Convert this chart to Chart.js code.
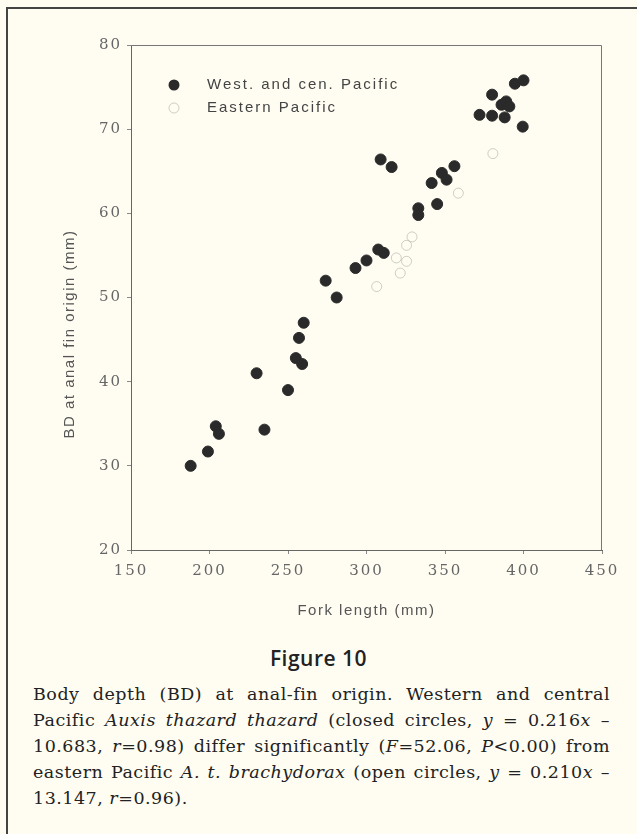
<!DOCTYPE html>
<html>
<head>
<meta charset="utf-8">
<script src="https://cdn.jsdelivr.net/npm/chart.js@4.4.0/dist/chart.umd.min.js"></script>
<style>
  body { margin: 0; background: #fffdf2; }
  #page { position: relative; width: 637px; height: 834px; overflow: hidden; background: #fffdf2; }
  #frame { position: absolute; left: 6px; top: 7px; width: 700px; height: 900px;
           border-left: 2px solid #444; border-top: 2px solid #444; }
  #c { position: absolute; left: 0; top: 0; }
  #fig { position: absolute; left: 0; top: 644px; width: 637px; text-align: center;
         font: 600 21px "Open Sans"; color: #222; letter-spacing: 0.5px; }
  #cap { position: absolute; left: 33px; top: 681px; width: 577px;
         font: 17.5px "DejaVu Serif"; line-height: 26px; color: #222; letter-spacing: 0.5px; }
  #cap div { text-align: justify; text-align-last: justify; white-space: nowrap; }
  #cap div.last { text-align-last: left; }
</style>
</head>
<body>
<div id="page">
  <div id="frame"></div>
  <canvas id="c" width="637" height="640"></canvas>
  <div id="fig">Figure 10</div>
  <div id="cap">
    <div>Body depth (BD) at anal-fin origin. Western and central</div>
    <div>Pacific <i>Auxis thazard thazard</i> (closed circles, <i>y</i> = 0.216<i>x</i> –</div>
    <div>10.683, <i>r</i>=0.98) differ significantly (<i>F</i>=52.06, <i>P</i>&lt;0.00) from</div>
    <div>eastern Pacific <i>A. t. brachydorax</i> (open circles, <i>y</i> = 0.210<i>x</i> –</div>
    <div class="last">13.147, <i>r</i>=0.96).</div>
  </div>
</div>
<script>
// West. and cen. Pacific (closed circles)
const westX = [188, 199, 204, 206, 235, 230, 250, 255, 259, 257,
               260, 274, 281, 293, 300, 307.5, 311, 309, 316, 333,
               333, 345, 341.5, 348, 351, 356, 372, 380, 380, 386,
               388, 389, 391, 394.5, 399.5, 400];
const westY = [30, 31.7, 34.7, 33.8, 34.3, 41, 39, 42.8, 42.1, 45.2,
               47, 52, 50, 53.5, 54.4, 55.7, 55.3, 66.4, 65.5, 60.6,
               59.8, 61.1, 63.6, 64.8, 64, 65.6, 71.7, 71.6, 74.1, 72.9,
               71.4, 73.3, 72.7, 75.4, 70.3, 75.8];

// Eastern Pacific (open circles, very faint in the print)
const eastX = [306.5, 319, 321.5, 325.5, 325.5, 329, 358.5, 380.5];
const eastY = [51.3, 54.7, 52.9, 54.3, 56.2, 57.2, 62.4, 67.1];

const xTicks = [150, 200, 250, 300, 350, 400, 450];
const yTicks = [20, 30, 40, 50, 60, 70, 80];
const xTitle = 'Fork length (mm)';
const yTitle = 'BD at anal fin origin (mm)';

const toPts = (xs, ys) => xs.map((x, i) => ({x: x, y: ys[i]}));

const decor = {
  id: 'decor',
  beforeDraw(chart) {
    chart.ctx.letterSpacing = '2px';
  },
  afterDraw(chart) {
    const ctx = chart.ctx;
    const a = chart.chartArea;
    const ds = chart.data.datasets;
    ctx.save();
    // top and right sides of the plot box
    ctx.strokeStyle = '#777';
    ctx.lineWidth = 1;
    ctx.beginPath();
    ctx.moveTo(a.left, a.top + 0.5);
    ctx.lineTo(a.right - 0.5, a.top + 0.5);
    ctx.lineTo(a.right - 0.5, a.bottom);
    ctx.stroke();

    // legend
    ctx.font = '15px "Liberation Sans"';
    ctx.letterSpacing = '2px';
    ctx.textBaseline = 'middle';
    ctx.textAlign = 'left';
    ctx.beginPath();
    ctx.arc(174, 85, 5.5, 0, Math.PI * 2);
    ctx.fillStyle = ds[0].backgroundColor;
    ctx.fill();
    ctx.beginPath();
    ctx.arc(174, 108, 5, 0, Math.PI * 2);
    ctx.strokeStyle = ds[1].borderColor;
    ctx.stroke();
    ctx.fillStyle = '#444';
    ctx.fillText(ds[0].label, 207, 85);
    ctx.fillText(ds[1].label, 207, 108);

    // axis titles
    ctx.fillStyle = '#555';
    ctx.letterSpacing = '1.5px';
    ctx.textAlign = 'center';
    ctx.fillText(xTitle, (a.left + a.right) / 2, 611);
    ctx.translate(70, 334);
    ctx.rotate(-Math.PI / 2);
    ctx.fillText(yTitle, 0, 0);
    ctx.restore();
  }
};

const tickFont = {family: '"DejaVu Serif"', size: 15};

new Chart(document.getElementById('c'), {
  type: 'scatter',
  data: {
    datasets: [{
      label: 'West. and cen. Pacific',
      data: toPts(westX, westY),
      backgroundColor: '#2a2a2a',
      borderColor: '#2a2a2a',
      pointRadius: 5.5
    }, {
      label: 'Eastern Pacific',
      data: toPts(eastX, eastY),
      backgroundColor: 'rgba(0,0,0,0)',
      borderColor: 'rgba(150,150,140,0.45)',
      borderWidth: 1,
      pointRadius: 5
    }]
  },
  options: {
    responsive: false,
    animation: false,
    devicePixelRatio: 1,
    layout: {padding: {left: 0, top: 45, right: 35, bottom: 30}},
    plugins: {legend: {display: false}, tooltip: {enabled: false}},
    scales: {
      x: {
        type: 'linear', min: 150, max: 450,
        afterBuildTicks: s => { s.ticks = xTicks.map(v => ({value: v})); },
        afterFit: s => { s.height = 60; },
        ticks: {font: tickFont, color: '#666', padding: 8, maxRotation: 0},
        grid: {drawOnChartArea: false, tickLength: 4, color: '#888'},
        border: {color: '#666'}
      },
      y: {
        type: 'linear', min: 20, max: 80,
        afterBuildTicks: s => { s.ticks = yTicks.map(v => ({value: v})); },
        afterFit: s => { s.width = 131; },
        ticks: {font: tickFont, color: '#666', padding: 5},
        grid: {drawOnChartArea: false, tickLength: 4, color: '#888'},
        border: {color: '#666'}
      }
    }
  },
  plugins: [decor]
});
</script>
</body>
</html>
